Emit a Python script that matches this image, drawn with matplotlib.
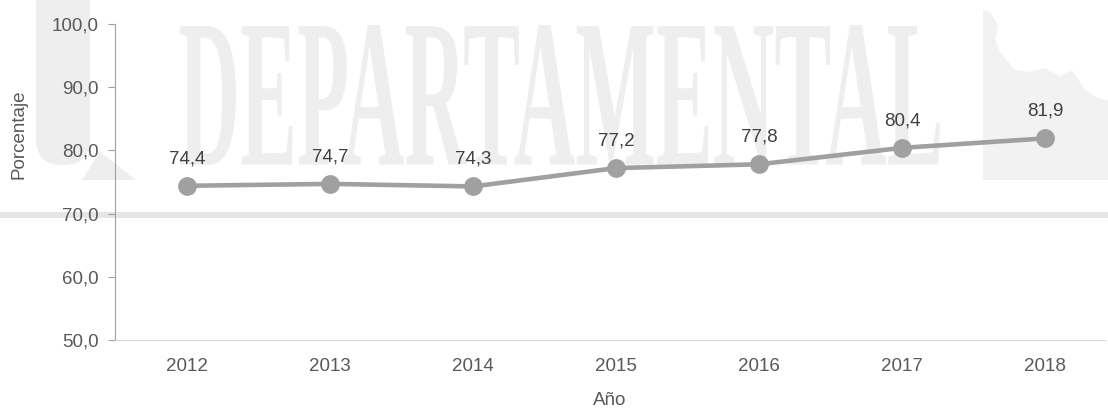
import matplotlib
matplotlib.use("Agg")
from matplotlib import pyplot as plt
from matplotlib.textpath import TextPath
from matplotlib.font_manager import FontProperties
from matplotlib.patches import PathPatch, Polygon, FancyBboxPatch, Rectangle
from matplotlib.transforms import Affine2D

years = ["2012", "2013", "2014", "2015", "2016", "2017", "2018"]
values = [74.4, 74.7, 74.3, 77.2, 77.8, 80.4, 81.9]
value_labels = ["74,4", "74,7", "74,3", "77,2", "77,8", "80,4", "81,9"]
y_ticks = [50, 60, 70, 80, 90, 100]
y_tick_labels = ["50,0", "60,0", "70,0", "80,0", "90,0", "100,0"]

plt.rcParams['font.family'] = ['Liberation Sans', 'DejaVu Sans']
fs = 13.5

W, H = 1108, 408
fig = plt.figure(figsize=(W / 100, H / 100), dpi=100)

# background watermark, drawn in pixel coordinates
bg = fig.add_axes([0, 0, 1, 1], zorder=0)
bg.set_xlim(0, W)
bg.set_ylim(H, 0)
bg.axis("off")
wm = "#eeeeee"

tp = TextPath((0, 0), "DEPARTAMENTAL", size=100,
              prop=FontProperties(family="Liberation Serif", weight="bold"))
ext = tp.get_extents()
sx = (940 - 180) / ext.width
sy = (165 - 25) / ext.height
tr = Affine2D().translate(-ext.x0, -ext.y0).scale(sx, -sy).translate(180, 165)
bg.add_patch(PathPatch(tr.transform_path(tp), color=wm, lw=0))

bg.add_patch(FancyBboxPatch((36, -40), 54, 205, boxstyle="round,pad=0,rounding_size=26", color=wm, lw=0))
bg.add_patch(Polygon([(82, 180), (100, 152), (136, 180)], color=wm, lw=0))
bg.add_patch(Polygon([(983, 10), (990, 12), (998, 25), (995, 40), (1000, 52), (1015, 70),
                      (1030, 72), (1045, 68), (1060, 76), (1072, 70), (1085, 90), (1098, 98),
                      (1108, 100), (1108, 180), (983, 180)], color="#f2f2f2", lw=0))
bg.add_patch(Rectangle((0, 212), W, 6, color="#e6e6e6", lw=0))

# main chart
ax = fig.add_axes([115 / W, 1 - 340 / H, (1105 - 115) / W, (340 - 24) / H], zorder=1)
ax.patch.set_alpha(0)
x = range(len(years))
ax.plot(x, values, color="#a0a0a0", lw=3.3, marker="o", markersize=12.5, zorder=3)
for xi, v, lab in zip(x, values, value_labels):
    ax.annotate(lab, (xi, v), xytext=(0, 13.5), textcoords="offset points",
                ha="center", va="bottom", fontsize=fs, color="#404040")

ax.set_xlim(-0.503, 6.42)
ax.set_ylim(50, 100)
ax.set_xticks(list(x))
ax.set_xticklabels(years)
ax.set_yticks(y_ticks)
ax.set_yticklabels(y_tick_labels)
ax.tick_params(axis="x", length=0, pad=13, labelsize=fs, labelcolor="#595959")
ax.tick_params(axis="y", length=5, color="#a0a0a0", pad=7, labelsize=fs, labelcolor="#595959")
for s in ["top", "right"]:
    ax.spines[s].set_visible(False)
ax.spines["left"].set_color("#a0a0a0")
ax.spines["bottom"].set_color("#d9d9d9")
ax.set_xlabel("Año", fontsize=fs, color="#595959", labelpad=12)
ax.set_ylabel("Porcentaje", fontsize=fs, color="#595959")
ax.yaxis.set_label_coords(-0.088, 0.65)

fig.savefig("out.png", dpi=100)
